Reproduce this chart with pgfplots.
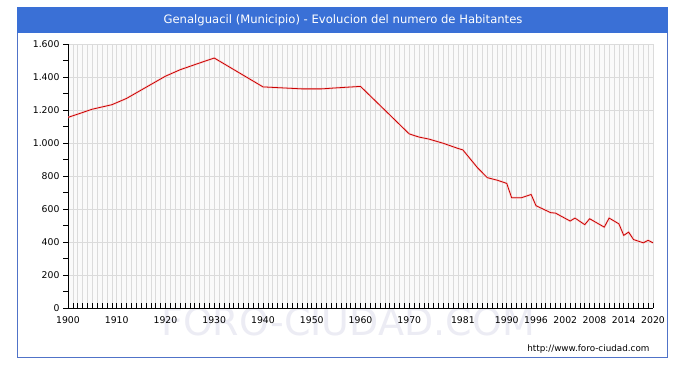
\documentclass[border=0pt]{standalone}
\usepackage{pgfplots}
\pgfplotsset{compat=1.18}
\usepackage{fontspec}
\setmainfont{DejaVu Sans}
\definecolor{hdr}{RGB}{58,112,214}
\definecolor{frm}{RGB}{80,115,200}
\definecolor{ln}{RGB}{200,0,0}
\definecolor{wm}{RGB}{236,236,244}
\pgfplotstableread{
year pop
1900 1155
1905 1205
1909 1232
1912 1270
1920 1405
1923 1444
1927 1485
1930 1515
1940 1340
1942 1337
1948 1328
1952 1328
1955 1334
1960 1343
1970 1055
1972 1036
1974 1024
1977 998
1980 967
1981 958
1984 850
1986 790
1988 775
1990 755
1991 668
1993 668
1995 688
1996 620
1999 578
2000 575
2003 527
2004 545
2006 505
2007 541
2010 490
2011 545
2013 510
2014 440
2015 460
2016 415
2018 395
2019 410
2020 395
}\datatable
\begin{document}
\begin{tikzpicture}[x=1pt,y=1pt]
\path[use as bounding box] (0,0) rectangle (687,366);
\fill[white] (0,0) rectangle (687,366);
\draw[frm, line width=0.8pt] (17.5,9) rectangle (667.5,358);
\fill[hdr] (17,333) rectangle (668,358.5);
\node[text=white, font=\fontsize{11.6}{13}\selectfont] at (343,345.5) {Genalguacil (Municipio) - Evolucion del numero de Habitantes};
\node[text=wm, font=\fontsize{38}{40}\selectfont] at (348,44) {FORO-CIUDAD.COM};
\begin{axis}[
  at={(68pt,58pt)}, anchor=south west,
  scale only axis, width=585pt, height=264pt,
  xmin=1900, xmax=2020, ymin=0, ymax=1600,
  axis x line=bottom, axis y line=left,
  axis line style={-, black, line width=0.8pt},
  axis background/.style={fill=gray!4},
  xtick={1900,1910,1920,1930,1940,1950,1960,1970,1981,1990,1996,2002,2008,2014,2020},
  xticklabels={1900,1910,1920,1930,1940,1950,1960,1970,1981,1990,1996,2002,2008,2014,2020},
  minor xtick={1900,...,2020},
  ytick={0,200,...,1600},
  minor ytick={100,300,...,1500},
  tick align=outside,
  major tick length=5pt, minor tick length=5pt,
  x tick style={yshift=5pt, black, line width=0.6pt},
  y tick style={black, line width=0.6pt},
  xmajorgrids, xminorgrids, ymajorgrids,
  major grid style={color=gray!28, line width=0.6pt},
  minor grid style={color=gray!28, line width=0.6pt},
  tick label style={font=\fontsize{9.3}{10}\selectfont, text=black},
  /pgf/number format/assume math mode=true,
  /pgf/number format/.cd, 1000 sep={.},
]
\addplot[red!25, line width=2.2pt, opacity=0.6] table[x=year, y=pop] {\datatable};
\addplot[ln, line width=0.8pt] table[x=year, y=pop] {\datatable};
\end{axis}
\node[anchor=east, font=\fontsize{8.8}{10}\selectfont] at (653,17) {http://www.foro-ciudad.com};
\end{tikzpicture}
\end{document}
